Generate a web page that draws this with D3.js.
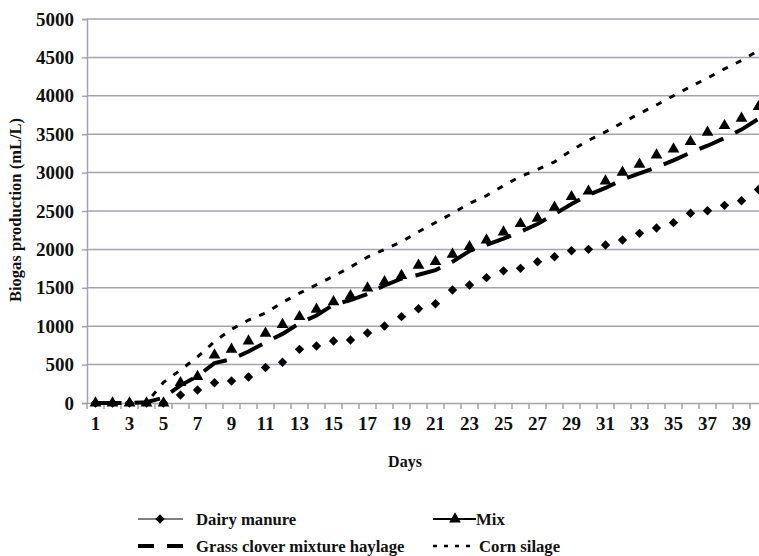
<!DOCTYPE html>
<html><head><meta charset="utf-8">
<script src="https://cdn.jsdelivr.net/npm/d3@7"></script>
<style>
html,body{margin:0;padding:0;background:#fff;}
svg{display:block;}
svg text{font-family:"Liberation Serif","Times New Roman","DejaVu Serif","Noto Serif",serif !important;fill:#111;}
</style></head>
<body>
<svg id="chart" width="759" height="556"></svg>
<script>
const days = d3.range(1, 41);
const yTicks = [0,500,1000,1500,2000,2500,3000,3500,4000,4500,5000];
const xLabelDays = [1,3,5,7,9,11,13,15,17,19,21,23,25,27,29,31,33,35,37,39];
const dairyManure = [0,0,0,0,0,104,170,264,286,338,462,530,699,742,807,820,911,1003,1124,1228,1293,1471,1536,1632,1721,1753,1840,1905,1983,2001,2057,2122,2209,2279,2348,2470,2504,2574,2634,2780];
const mix = [0,0,0,0,0,264,343,625,699,807,907,1020,1124,1220,1317,1395,1497,1579,1660,1792,1840,1935,2035,2122,2226,2335,2405,2548,2686,2758,2890,3004,3108,3229,3307,3402,3524,3611,3707,3858];
const grassClover = [0,0,0,10,70,230,350,520,570,670,790,900,1040,1140,1280,1340,1420,1530,1620,1670,1730,1840,1980,2060,2140,2230,2330,2460,2590,2710,2800,2910,2990,3070,3160,3260,3350,3450,3560,3700];
const cornSilage = [0,0,0,0,270,430,600,800,960,1080,1170,1310,1430,1540,1650,1770,1900,2000,2100,2230,2350,2470,2600,2700,2830,2950,3040,3140,3290,3420,3530,3650,3770,3880,4000,4120,4230,4350,4460,4590];

const FONT = '"Liberation Serif","Times New Roman","DejaVu Serif","Noto Serif",serif';
const svg = d3.select("#chart");
const x = d3.scaleBand().domain(days).range([87, 767]).padding(0);
const cx = d => x(d) + x.bandwidth()/2;
const y = d3.scaleLinear().domain([0, 5000]).range([403, 19]);
const gridColor = "#a3a3b1";

// gridlines
svg.append("g").selectAll("line").data(yTicks.filter(v => v > 0)).join("line")
  .attr("x1", 87).attr("x2", 767).attr("y1", d => y(d)).attr("y2", d => y(d))
  .attr("stroke", gridColor).attr("stroke-width", 1.5);

// y axis
const yAxis = svg.append("g").attr("transform", "translate(87,0)")
  .call(d3.axisLeft(y).tickValues(yTicks).tickSize(5).tickPadding(8).tickFormat(d3.format("d")));
yAxis.attr("font-family", FONT);
yAxis.select(".domain").attr("stroke", gridColor).attr("stroke-width", 1.5);
yAxis.selectAll(".tick line").attr("stroke", gridColor).attr("stroke-width", 1.5);
yAxis.selectAll("text").attr("font-size", 19).attr("font-weight", "bold").attr("fill", "#111");

// x axis
const xAxis = svg.append("g").attr("transform", "translate(0,403)")
  .call(d3.axisBottom(x).tickValues(xLabelDays).tickSize(0).tickPadding(14));
xAxis.attr("font-family", FONT);
xAxis.select(".domain").attr("stroke", gridColor).attr("stroke-width", 1.5);
xAxis.selectAll("text").attr("font-size", 19).attr("font-weight", "bold").attr("fill", "#111");
svg.append("g").selectAll("line").data(days.concat([41])).join("line")
  .attr("x1", d => d <= 40 ? x(d) : x(40) + x.bandwidth())
  .attr("x2", d => d <= 40 ? x(d) : x(40) + x.bandwidth())
  .attr("y1", 403).attr("y2", 409)
  .attr("stroke", gridColor).attr("stroke-width", 1.5);

// axis titles
svg.append("text").attr("x", 405).attr("y", 467).attr("text-anchor", "middle")
  .attr("font-size", 16).attr("font-weight", "bold").text("Days");
svg.append("text").attr("transform", "translate(21,210) rotate(-90)").attr("text-anchor", "middle")
  .attr("font-size", 16.5).attr("font-weight", "bold").text("Biogas production (mL/L)");

const line = d3.line().x((d, i) => cx(days[i])).y(d => y(d));

// corn silage
svg.append("path").datum(cornSilage).attr("d", line).attr("fill", "none")
  .attr("stroke", "#000").attr("stroke-width", 3).attr("stroke-dasharray", "6,9");
// grass clover
svg.append("path").datum(grassClover).attr("d", line).attr("fill", "none")
  .attr("stroke", "#000").attr("stroke-width", 4).attr("stroke-dasharray", "26,13");

const sq = d3.symbol().type(d3.symbolSquare).size(44);
const tri = d3.symbol().type(d3.symbolTriangle).size(60);

svg.append("g").selectAll("path").data(dairyManure).join("path")
  .attr("d", sq)
  .attr("transform", (d, i) => `translate(${cx(days[i])},${y(d)}) rotate(45)`)
  .attr("fill", "#000");
svg.append("g").selectAll("path").data(mix).join("path")
  .attr("d", tri)
  .attr("transform", (d, i) => `translate(${cx(days[i])},${y(d)})`)
  .attr("fill", "#000");

// legend
const lg = svg.append("g");
const LS = 16.7;
lg.append("line").attr("x1", 138).attr("x2", 183).attr("y1", 519).attr("y2", 519).attr("stroke", "#000").attr("stroke-width", 1.2);
lg.append("path").attr("d", sq).attr("transform", "translate(160,519) rotate(45)").attr("fill", "#000");
lg.append("text").attr("x", 196).attr("y", 525).attr("font-size", LS).attr("font-weight", "bold").text("Dairy manure");
lg.append("line").attr("x1", 138).attr("x2", 183).attr("y1", 546).attr("y2", 546).attr("stroke", "#000").attr("stroke-width", 4).attr("stroke-dasharray", "16,13");
lg.append("text").attr("x", 196).attr("y", 552).attr("font-size", LS).attr("font-weight", "bold").text("Grass clover mixture haylage");
lg.append("line").attr("x1", 433).attr("x2", 476).attr("y1", 519).attr("y2", 519).attr("stroke", "#000").attr("stroke-width", 2.2);
lg.append("path").attr("d", tri).attr("transform", "translate(455,519)").attr("fill", "#000");
lg.append("text").attr("x", 476).attr("y", 525).attr("font-size", LS).attr("font-weight", "bold").text("Mix");
lg.append("line").attr("x1", 433).attr("x2", 472).attr("y1", 546).attr("y2", 546).attr("stroke", "#000").attr("stroke-width", 2.5).attr("stroke-dasharray", "4,7");
lg.append("text").attr("x", 479).attr("y", 552).attr("font-size", LS).attr("font-weight", "bold").text("Corn silage");
</script>
</body></html>
